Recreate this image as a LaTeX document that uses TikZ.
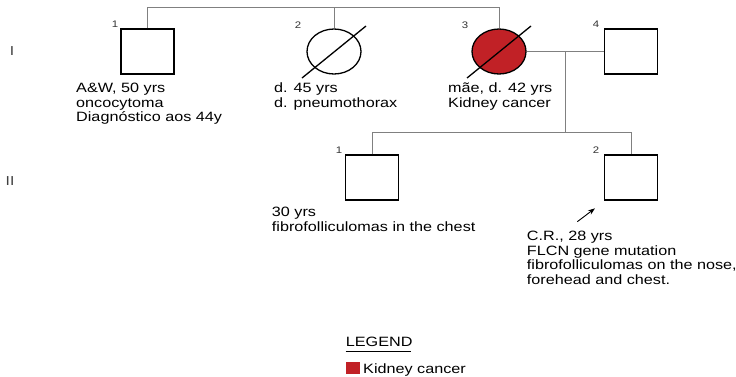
\documentclass[tikz,border=0pt]{standalone}
\usepackage{fontspec}
\setmainfont{Liberation Sans}[FakeStretch=1.2]
\usetikzlibrary{shapes.geometric,arrows.meta}

\definecolor{kidneyred}{RGB}{193,33,38}
\definecolor{linegray}{RGB}{128,128,128}

\tikzset{
	male/.style={rectangle, draw, line width=1.3pt, minimum width=53pt, minimum height=45pt, inner sep=0pt},
	female/.style={ellipse, draw, line width=1.3pt, minimum width=54pt, minimum height=45pt, inner sep=0pt},
	affected/.style={fill=kidneyred},
	deceased/.style={line width=1.3pt},
	kin/.style={draw=linegray, line width=0.9pt},
	txt/.style={anchor=north west, align=left, inner sep=0pt, font=\fontsize{13.5}{14.5}\selectfont},
	num/.style={inner sep=0pt, text=black!80, font=\fontsize{9.5}{10}\selectfont},
	gen/.style={inner sep=0pt, text=black!75, font=\fontsize{13}{14}\selectfont},
}

\begin{document}
\begin{tikzpicture}[x=1pt, y=-1pt]
	\fill[white] (0,0) rectangle (736,376);
	\useasboundingbox (0,0) rectangle (736,376);
	
	% Generation labels
	\node[gen] (genI) at (12,51) {I};
	\node[gen] (genII) at (10,181) {II};
	
	% Generation I
	\node[male] (I1) at (147.5,51.5) {};
	\node[female] (I2) at (334,51.5) {};
	\node[female, affected] (I3) at (499,51.5) {};
	\node[male] (I4) at (631,51.5) {};
	
	% Generation II
	\node[male] (II1) at (372.3,177.5) {};
	\node[male] (II2) at (631,177.5) {};
	
	% Individual numbers
	\foreach \name/\x/\y/\lbl in {nI1/115/24/1, nI2/298/25/2, nI3/465/25/3, nI4/596/24/4, nII1/339/150/1, nII2/596/150/2} {
		\node[num] (\name) at (\x,\y) {\lbl};
	}
	
	% Deceased slashes
	\foreach \p in {I2,I3} {
		\draw[deceased] (\p.center) ++(-32,26.5) -- ++(64,-52);
	}
	
	% Sibship of generation I
	\coordinate (sibI) at (147.5,7);
	\draw[kin] (I1.north) -- (sibI) -| (I3.north);
	\draw[kin] (I2.north) -- (I2.north |- sibI);
	
	% Mating line and descent
	\coordinate (mate) at (565.7,51.5);
	\coordinate (sibII) at (565.7,132.5);
	\draw[kin] (I3.east) -- (I4.west);
	\draw[kin] (mate) -- (sibII);
	\draw[kin] (II1.north) |- (sibII) -| (II2.north);
	
	% Proband arrow
	\coordinate (arrtail) at (577.3,221.7);
	\coordinate (arrhead) at (595,208.3);
	\draw[line width=0.9pt, -{Stealth[length=7pt, width=5pt]}] (arrtail) -- (arrhead);
	
	% Descriptions
	\node[txt] (tI1) at (76,83) {A\&W, 50 yrs\\oncocytoma\\Diagnóstico aos 44y};
	\node[txt] (tI2) at (274,83) {d. 45 yrs\\d. pneumothorax};
	\node[txt] (tI3) at (448,83) {mãe, d. 42 yrs\\Kidney cancer};
	\node[txt] (tII1) at (271.7,207) {30 yrs\\fibrofolliculomas in the chest};
	\node[txt] (tII2) at (526.7,231) {C.R., 28 yrs\\FLCN gene mutation\\fibrofolliculomas on the nose,\\forehead and chest.};
	
	% Legend
	\node[txt] (legend) at (345.7,337) {LEGEND};
	\draw[line width=0.9pt] (legend.south west) ++(0,4) -- ++(65,0);
	\node[rectangle, fill=kidneyred, minimum width=13.6pt, minimum height=11.6pt, inner sep=0pt, anchor=north west] (keybox) at (345.7,361.7) {};
	\node[txt, anchor=base west] (keytxt) at (363,373) {Kidney cancer};
\end{tikzpicture}
\end{document}
